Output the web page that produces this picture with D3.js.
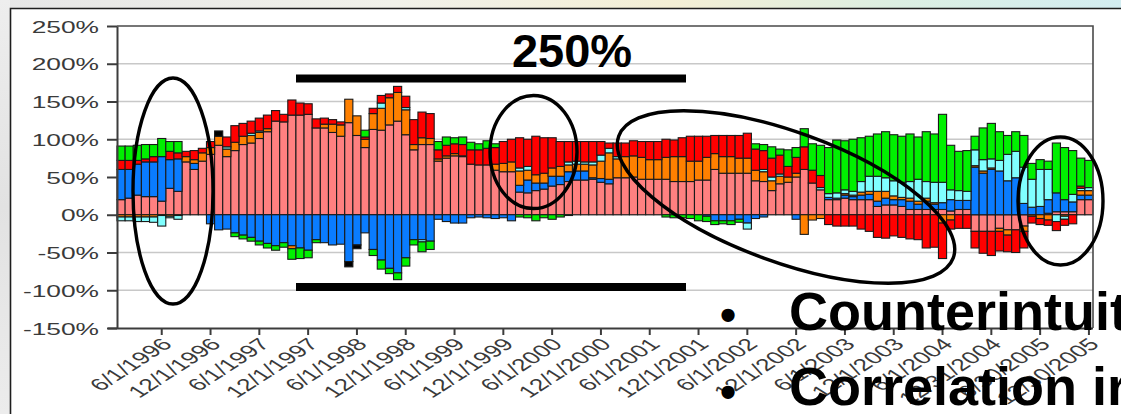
<!DOCTYPE html>
<html>
<head>
<meta charset="utf-8">
<script src="https://cdn.jsdelivr.net/npm/d3@7/dist/d3.min.js"></script>
<style>
  html, body { margin: 0; padding: 0; background: #fff; overflow: hidden; }
  svg { display: block; }
  .axis-text { font-family: "Liberation Sans", Arial, sans-serif; fill: #3a3a3a; }
  .big { font-family: "Liberation Sans", Arial, sans-serif; font-weight: bold; fill: #000; }
</style>
</head>
<body>
<svg id="chart" width="1121" height="414"></svg>
<script>
// Monthly categories, Jan 1996 .. Dec 2005
const years = [1996, 1997, 1998, 1999, 2000, 2001, 2002, 2003, 2004, 2005];
const months = [];
years.forEach(yr => { for (let m = 1; m <= 12; m++) months.push(yr + "-" + String(m).padStart(2, "0")); });

// Axis labels shown every sixth month
const tickLabels = ["6/1/1996", "12/1/1996", "6/1/1997", "12/1/1997", "6/1/1998", "12/1/1998",
  "6/1/1999", "12/1/1999", "6/1/2000", "12/1/2000", "6/1/2001", "12/1/2001",
  "6/1/2002", "12/1/2002", "6/1/2003", "12/1/2003", "6/1/2004", "12/31/2004",
  "6/30/2005", "12/30/2005"];
const yTicks = [250, 200, 150, 100, 50, 0, -50, -100, -150];

// Stacked contributions (%), one row per year
const pinkValues = [
  20, 22, 26, 24, 24, 18, 35, 31, 70, 60, 71, 80,
  92, 77, 85, 93, 95, 101, 110, 124, 123, 132, 132, 133,
  115, 115, 109, 104, 122, 105, 89, 113, 112, 119, 124, 106,
  86, 93, 93, 71, 75, 78, 77, 67, 66, 66, 59, 57,
  57, 30, 29, 32, 34, 38, 40, 44, 46, 46, 47, 43,
  41, 49, 49, 50, 47, 47, 47, 47, 44, 44, 44, 46,
  46, 60, 55, 55, 55, 55, 45, 44, 32, 41, 43, 50,
  60, 42, 33, 20, 20, 22, 20, 20, 20, 11, 13, 13,
  11, 7, 7, 7, 7, 7, 5, 7, 7, -22, -22, -22,
  -18, -20, -20, -15, 0, 0, 2, 4, 4, 4, 20, 20];
const blueValues = [
  40, 38, 41, 46, 46, 59, 38, 43, 0, 8, 0, -12,
  -20, -19, -24, -27, -30, -35, -38, -41, -37, -41, -44, -47,
  -33, -37, -40, -39, -62, -40, -24, -46, -60, -71, -77, -57,
  -33, -33, -35, -6, -9, -11, -11, -4, -3, -4, -5, -4,
  -8, 9, 17, 10, 8, 13, 11, 13, 12, 12, 2, 5,
  6, 0, 0, 0, 0, 0, 0, 0, 0, 0, 0, 0,
  -2, -8, -8, -8, -6, -11, -5, -3, 0, 0, 0, -6,
  0, 0, 0, 3, 2, 4, 4, 6, 7, 7, 9, 7,
  9, 11, 7, 11, 7, 9, 15, 12, 12, 63, 55, 60,
  58, 45, 49, 15, 10, 11, 18, 25, 16, 13, 6, 6];
const orangeValues = [
  -3, -3, -3, -3, -3, -1, -2, -1, 7, 5, 11, 9,
  12, 10, 11, 11, 10, 8, 4, 0, 0, -4, 0, 0,
  0, 5, 11, 15, 31, 26, 11, 21, 29, 36, 38, 33,
  7, 9, 8, 3, 3, 3, 1, 0, 0, 0, 8, 11,
  13, 19, 13, 11, 13, 11, 13, 9, 9, 9, 17, 23,
  35, 25, 28, 28, 29, 26, 26, 29, 33, 33, 27, 25,
  30, 21, 22, 22, 20, 20, 14, 13, 13, 10, 7, 5,
  -26, -7, -5, 0, 0, 2, 2, 4, 4, 13, 9, 5,
  3, 4, 4, 4, 2, -11, -7, 0, 0, 2, 3, 2,
  -4, -7, 0, -7, -2, -5, -7, 0, -2, 0, 6, 6];
const cyanValues = [
  -5, -5, -6, -6, -7, -14, -2, -5, 0, 0, 0, 0,
  0, 3, 0, 0, 3, 2, 0, 0, 0, 0, 0, 0,
  0, 0, 0, 0, 0, 0, 0, 0, 7, 0, 0, 3,
  0, -3, 0, 0, 0, 0, 0, 0, 0, 0, 0, 0,
  0, 4, 5, 0, 0, 0, 0, 4, 4, 3, 4, 8,
  6, 3, 0, 0, 0, 0, 0, 0, 0, 0, 0, 0,
  0, 0, 0, 0, 0, -8, 0, 3, 5, 3, 0, 0,
  0, 0, 3, 5, 7, 5, 5, 14, 20, 20, 18, 20,
  20, 22, 29, 22, 27, 27, 13, 13, 12, 21, 15, 12,
  14, 35, 35, 48, 37, 49, 40, -9, -4, 10, 3, 4];
const redValues = [
  12, 12, 5, 4, 7, 0, 11, 8, 7, 12, 6, 8,
  0, 13, 22, 17, 16, 17, 18, 14, 10, 20, 16, 14,
  12, 8, 6, 4, 0, 0, 3, 7, 10, 5, 8, 15,
  33, 34, 33, 12, 14, 13, 15, 19, 20, 22, 22, 29,
  30, 40, 36, 51, 47, 40, 33, 27, 26, 27, 27, 18,
  7, 18, 18, 20, 21, 24, 24, 24, 22, 25, 33, 33,
  28, 24, 28, 28, 30, 33, 28, 25, 25, 25, 14, 21,
  30, 17, 16, -13, -15, -15, -15, -19, -22, -30, -31, -28,
  -30, -32, -33, -44, -43, -47, -12, -18, -18, -22, -29, -32,
  -26, -22, -30, -22, -9, -8, -7, -12, -8, -12, 3, 0];
const greenValues = [
  19, 19, 20, 19, 16, 24, 13, 15, 0, 0, 0, 0,
  0, 0, -5, -5, -5, -5, -6, -6, -6, -14, -14, -10,
  -4, 0, 0, 0, 0, 0, 9, -8, -12, -7, -9, -11,
  -7, -13, -11, 11, 11, 8, 10, 10, 8, 10, 5, 0,
  0, -3, -4, -8, -4, -6, -3, -1, 0, 0, 0, 0,
  0, 0, 0, 0, 0, 0, 0, -3, -4, -4, -5, -8,
  -7, -5, -4, -5, -4, 0, 7, 8, 15, 8, 22, 13,
  24, 35, 40, 61, 70, 65, 69, 58, 53, 56, 61, 61,
  61, 63, 56, 66, 64, 90, 59, 52, 54, 18, 42, 47,
  38, 25, 26, 42, 21, 13, 11, 66, 69, 58, 37, 36];
const blackValues = [
  0, 0, 0, 0, 0, 0, 0, 0, 0, 0, 0, 0,
  7, 0, 0, 0, 0, 0, 0, 0, 0, 0, 0, 0,
  0, 0, 0, 0, -7, -5, 0, 0, 0, 0, 0, 0,
  0, 0, 0, 0, 0, 0, 0, 0, 0, 0, 0, 0,
  0, 0, 0, 0, 0, 0, 0, 0, 0, 0, 0, 0,
  0, 0, 0, 0, 0, 0, 0, 0, 0, 0, 0, 0,
  0, 0, 0, 0, 0, 0, 0, 0, 0, 0, 0, 0,
  0, 0, 0, 0, 0, 0, 0, 0, 0, 0, 0, 0,
  0, 0, 0, 0, 0, 0, 0, 0, 0, 0, 0, 0,
  0, 0, 0, 0, 0, 0, 0, 0, 0, 0, 0, 0];

const seriesKeys = ["pink", "blue", "orange", "cyan", "red", "green", "black"];
const seriesData = { pink: pinkValues, blue: blueValues, orange: orangeValues, cyan: cyanValues,
  red: redValues, green: greenValues, black: blackValues };
const seriesColor = { pink: "#ff8080", blue: "#0a7cff", orange: "#ff8000", cyan: "#80ffff",
  red: "#ff0000", green: "#00f000", black: "#000000" };

const rows = months.map((m, i) => {
  const r = { month: m, idx: i };
  seriesKeys.forEach(k => { r[k] = seriesData[k][i]; });
  return r;
});

const W = 1121, H = 414;
const plot = { left: 117, right: 1093, top: 26, bottom: 328 };
const sx = 1.55; // horizontal stretch of the chart lettering

const svg = d3.select("#chart");
const defs = svg.append("defs");

// Frame background: tinted strip along the top, grey strip on the left
const topGrad = defs.append("linearGradient").attr("id", "topGrad");
[["0%", "#e6e6e6"], ["35%", "#f1f1ea"], ["60%", "#f4efd5"], ["80%", "#dcefe2"], ["100%", "#d3edf1"]]
  .forEach(([o, c]) => topGrad.append("stop").attr("offset", o).attr("stop-color", c));
const leftGrad = defs.append("linearGradient").attr("id", "leftGrad")
  .attr("x1", 0).attr("y1", 0).attr("x2", 0).attr("y2", 1);
[["0%", "#eeeeee"], ["50%", "#e2e2e2"], ["100%", "#ececec"]]
  .forEach(([o, c]) => leftGrad.append("stop").attr("offset", o).attr("stop-color", c));

svg.append("rect").attr("x", 0).attr("y", 0).attr("width", W).attr("height", H).attr("fill", "#fff");
svg.append("rect").attr("x", 0).attr("y", 0).attr("width", W).attr("height", 8).attr("fill", "url(#topGrad)");
svg.append("rect").attr("x", 0).attr("y", 0).attr("width", 10).attr("height", H).attr("fill", "url(#leftGrad)");
svg.append("path").attr("d", `M10.5,${H} V8.5 H${W}`).attr("fill", "none")
  .attr("stroke", "#1e1e1e").attr("stroke-width", 1.6);

const x = d3.scaleBand().domain(d3.range(months.length)).range([plot.left, plot.right]).padding(0);
const y = d3.scaleLinear().domain([-150, 250]).range([plot.bottom, plot.top]);

// Gridlines
svg.append("g").selectAll("line").data(yTicks.filter(v => v !== 250 && v !== -150)).join("line")
  .attr("x1", plot.left).attr("x2", plot.right)
  .attr("y1", d => y(d)).attr("y2", d => y(d))
  .attr("stroke", "#c8c8c8").attr("stroke-width", 1.6);

// Stacked bars (positive values build up, negative values build down)
const stacked = d3.stack().keys(seriesKeys).offset(d3.stackOffsetDiverging)(rows);
const barG = svg.append("g");
stacked.forEach(layer => {
  barG.append("g").attr("fill", seriesColor[layer.key])
    .selectAll("rect")
    .data(layer.filter(d => d[1] !== d[0]))
    .join("rect")
    .attr("x", d => x(d.data.idx))
    .attr("width", x.bandwidth())
    .attr("y", d => y(Math.max(d[0], d[1])))
    .attr("height", d => Math.abs(y(d[0]) - y(d[1])))
    .attr("stroke", "#1a1a1a").attr("stroke-width", 1.1);
});

// Plot frame (top and right)
svg.append("path").attr("d", `M${plot.left},${plot.top} H${plot.right} V${plot.bottom}`)
  .attr("fill", "none").attr("stroke", "#4a4a4a").attr("stroke-width", 1.6);

// Value axis
const yAxis = svg.append("g").attr("transform", `translate(${plot.left},0)`)
  .call(d3.axisLeft(y).tickValues(yTicks).tickFormat(d => d + "%").tickSize(10).tickSizeOuter(0));
yAxis.select(".domain").attr("stroke", "#3c3c3c").attr("stroke-width", 2);
yAxis.selectAll(".tick line").attr("stroke", "#3c3c3c").attr("stroke-width", 2);
yAxis.selectAll(".tick text")
  .attr("class", "axis-text")
  .attr("x", 0).attr("dy", "0.36em")
  .attr("transform", `translate(-18,0) scale(${sx},1)`)
  .style("font-size", "17px");

// Category axis with a label every sixth month
const tickIdx = tickLabels.map((_, k) => 5 + 6 * k);
const xAxis = svg.append("g").attr("transform", `translate(0,${plot.bottom})`)
  .call(d3.axisBottom(x).tickValues(tickIdx).tickFormat((d, k) => tickLabels[k]).tickSize(7).tickSizeOuter(0));
xAxis.select(".domain").attr("stroke", "#3c3c3c").attr("stroke-width", 2)
  .attr("d", `M${plot.left - 9},0.5H${plot.right}`);
xAxis.selectAll(".tick line").attr("stroke", "#3c3c3c").attr("stroke-width", 2);
xAxis.selectAll(".tick text")
  .attr("class", "axis-text")
  .attr("x", 0).attr("y", 0).attr("dy", "0.35em")
  .attr("text-anchor", "end")
  .attr("transform", `translate(5,13) scale(${sx},1) rotate(-45)`)
  .style("font-size", "17px");

// Annotations
const ann = svg.append("g");
ann.append("text").attr("class", "big").attr("x", 572).attr("y", 67)
  .attr("text-anchor", "middle").style("font-size", "47px").text("250%");
ann.append("rect").attr("x", 296).attr("y", 74.5).attr("width", 390).attr("height", 8).attr("fill", "#000");
ann.append("rect").attr("x", 296).attr("y", 283).attr("width", 390).attr("height", 8).attr("fill", "#000");

const rings = [
  { cx: 173, cy: 191, rx: 40, ry: 113, rot: 0 },
  { cx: 533.5, cy: 152, rx: 43.5, ry: 56.5, rot: 0 },
  { cx: 786, cy: 197, rx: 178, ry: 65, rot: 20 },
  { cx: 1060.5, cy: 201, rx: 42.5, ry: 64, rot: 0 }
];
ann.selectAll("ellipse").data(rings).join("ellipse")
  .attr("cx", d => d.cx).attr("cy", d => d.cy).attr("rx", d => d.rx).attr("ry", d => d.ry)
  .attr("transform", d => `rotate(${d.rot},${d.cx},${d.cy})`)
  .attr("fill", "none").attr("stroke", "#000").attr("stroke-width", 3.4);

// Bullet points
const bullets = [
  { y: 330, dotY: 331, text: "Counterintuit" },
  { y: 405, dotY: 408, text: "Correlation ir" }
];
const bg = svg.append("g");
bullets.forEach(b => {
  bg.append("text").attr("class", "big").attr("x", 728).attr("y", b.dotY)
    .attr("text-anchor", "middle").style("font-size", "46px").text("\u2022");
  bg.append("text").attr("class", "big").attr("x", 789).attr("y", b.y)
    .style("font-size", "54px").text(b.text);
});
</script>
</body>
</html>
